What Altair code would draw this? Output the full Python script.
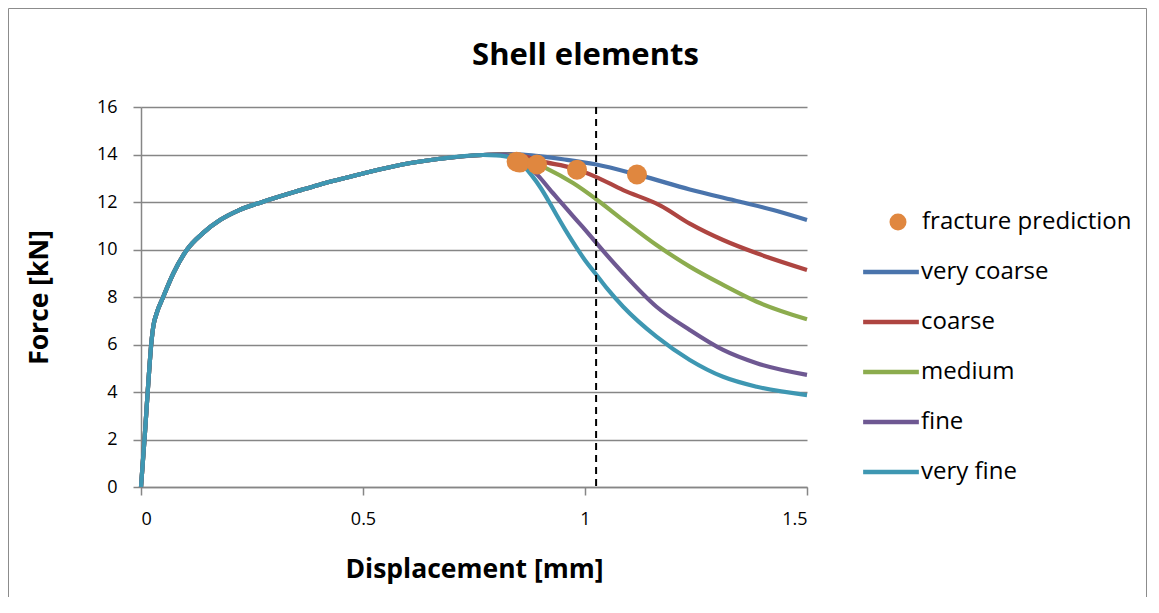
import altair as alt
import pandas as pd

# ---------------- data ----------------
series_names = ["very coarse", "coarse", "medium", "fine", "very fine"]
series_colors = ["#4A74AC", "#AE4541", "#8CAC4E", "#6E5892", "#3E97B2"]

# shared initial (elastic-plastic) branch
base_x = [0, 0.009, 0.0165, 0.024, 0.028, 0.035, 0.05, 0.073, 0.103, 0.14, 0.178,
          0.22, 0.275, 0.36, 0.40, 0.5, 0.583, 0.673, 0.77]
base_y = [0, 2.3, 4.4, 6.2, 6.8, 7.3, 8.0, 9.0, 9.98, 10.7, 11.24,
          11.65, 12.01, 12.5, 12.72, 13.2, 13.56, 13.82, 13.98]

very_coarse_x = [0.81, 0.86, 0.9, 0.95, 1.023, 1.124, 1.236, 1.349, 1.424, 1.5]
very_coarse_y = [14.02, 14.0, 13.92, 13.8, 13.59, 13.12, 12.53, 12.01, 11.66, 11.24]

coarse_x = [0.81, 0.86, 0.9, 0.974, 1.023, 1.086, 1.17, 1.236, 1.311, 1.387, 1.5]
coarse_y = [14.0, 13.93, 13.72, 13.42, 13.07, 12.5, 11.85, 11.09, 10.4, 9.84, 9.14]

medium_x = [0.81, 0.86, 0.892, 0.913, 0.974, 1.023, 1.086, 1.161, 1.236, 1.311, 1.387, 1.5]
medium_y = [14.0, 13.85, 13.6, 13.42, 12.79, 12.15, 11.24, 10.19, 9.28, 8.51, 7.8, 7.06]

fine_x = [0.81, 0.84, 0.856, 0.875, 0.895, 0.921, 0.95, 0.974, 1.0, 1.023, 1.086, 1.161,
          1.236, 1.311, 1.387, 1.5]
fine_y = [14.0, 13.88, 13.7, 13.45, 13.1, 12.52, 11.9, 11.38, 10.84, 10.33, 9.0, 7.59,
          6.61, 5.77, 5.21, 4.72]

very_fine_x = [0.8, 0.83, 0.848, 0.865, 0.88, 0.9, 0.92, 0.936, 0.955, 0.974, 1.0, 1.023,
               1.05, 1.086, 1.161, 1.236, 1.311, 1.387, 1.5]
very_fine_y = [13.96, 13.88, 13.72, 13.45, 13.12, 12.6, 11.98, 11.45, 10.85, 10.28, 9.55, 9.0,
               8.35, 7.59, 6.33, 5.35, 4.64, 4.22, 3.87]

fracture_x = [0.846, 0.853, 0.892, 0.982, 1.117]
fracture_y = [13.7, 13.66, 13.58, 13.36, 13.16]
fracture_label = ["fracture prediction"]

limit_x = [1.025]

x_ticks = [0, 0.5, 1, 1.5]
y_ticks = [0, 2, 4, 6, 8, 10, 12, 14, 16]

chart_title = ["Shell elements"]

# ---------------- build table ----------------
tails = {
    "very coarse": (very_coarse_x, very_coarse_y),
    "coarse": (coarse_x, coarse_y),
    "medium": (medium_x, medium_y),
    "fine": (fine_x, fine_y),
    "very fine": (very_fine_x, very_fine_y),
}
rows = []
for i, name in enumerate(series_names):
    tx, ty = tails[name]
    xs = base_x + tx
    ys = base_y + ty
    for j, (xv, yv) in enumerate(zip(xs, ys)):
        rows.append({"series": name, "x": xv, "y": yv, "k": i, "idx": j})
lines_df = pd.DataFrame(rows)

frac_df = pd.DataFrame({"x": fracture_x, "y": fracture_y,
                        "kind": fracture_label * len(fracture_x)})
limit_df = pd.DataFrame({"x": limit_x})
title_df = pd.DataFrame({"t": chart_title})

FONT = "Open Sans"
GRID = "#868686"

x_enc = alt.X("x:Q", scale=alt.Scale(domain=[0, 1.5], nice=False, zero=False),
              axis=alt.Axis(values=x_ticks, format="~g", grid=False,
                            title="Displacement [mm]"))
y_enc = alt.Y("y:Q", scale=alt.Scale(domain=[0, 16], nice=False),
              axis=alt.Axis(values=y_ticks, grid=True, title="Force [kN]"))

lines = alt.Chart(lines_df).mark_line(strokeWidth=4.2, interpolate="monotone").encode(
    x=x_enc,
    y=y_enc,
    color=alt.Color("series:N",
                    scale=alt.Scale(domain=series_names, range=series_colors),
                    legend=alt.Legend(
                        title=None, orient="none", legendX=738, legendY=153,
                        symbolType="M-3,0H3", symbolSize=345, symbolStrokeWidth=4.5,
                        labelOffset=18, rowPadding=26, labelFontSize=24,
                        labelFont=FONT, labelColor="#000000", labelLimit=400,
                        padding=0)),
    order=alt.Order("idx:Q"),
)

limit = alt.Chart(limit_df).mark_rule(color="#000000", strokeWidth=2,
                                      strokeDash=[7, 5]).encode(x="x:Q")

points = alt.Chart(frac_df).mark_circle(size=400, opacity=1).encode(
    x="x:Q", y="y:Q",
    fill=alt.Fill("kind:N", scale=alt.Scale(range=["#E0873F"]),
                  legend=alt.Legend(
                      title=None, orient="none", legendX=745, legendY=103,
                      symbolType="circle", symbolSize=289, symbolOpacity=1,
                      labelOffset=12, labelFontSize=24, labelFont=FONT,
                      labelColor="#000000", labelLimit=400, padding=0)),
)

title_text = alt.Chart(title_df).mark_text(
    font=FONT, fontSize=31, fontWeight="bold", color="#000000",
    align="center", baseline="alphabetic"
).encode(text="t:N", x=alt.value(444.5), y=alt.value(-42))

frame = alt.Chart(pd.DataFrame({"a": [0]})).mark_rect(
    filled=False, stroke="#8C8C8C", strokeWidth=1
).encode(x=alt.value(-132.5), x2=alt.value(1005.5), y=alt.value(-98.5), y2=alt.value(560))

chart = alt.layer(frame, title_text, lines, limit, points).properties(
    width=666, height=380,
    autosize=alt.AutoSizeParams(type="none"),
    padding={"left": 133, "top": 99, "right": 340, "bottom": 110},
    background="white",
).configure_view(stroke=None).configure_axis(
    labelFont=FONT, labelFontSize=18, labelColor="#000000",
    titleFont=FONT, titleFontSize=26.5, titleFontWeight="bold", titleColor="#000000",
    domainColor=GRID, domainWidth=1.5, tickColor=GRID, tickWidth=1.5, tickSize=8,
    gridColor=GRID, gridWidth=1.5, gridOpacity=1,
).configure_axisX(labelPadding=15, titlePadding=28).configure_axisY(
    labelPadding=16, titlePadding=43
)

chart.save("out.html", embed_options={"renderer": "svg", "actions": False})
